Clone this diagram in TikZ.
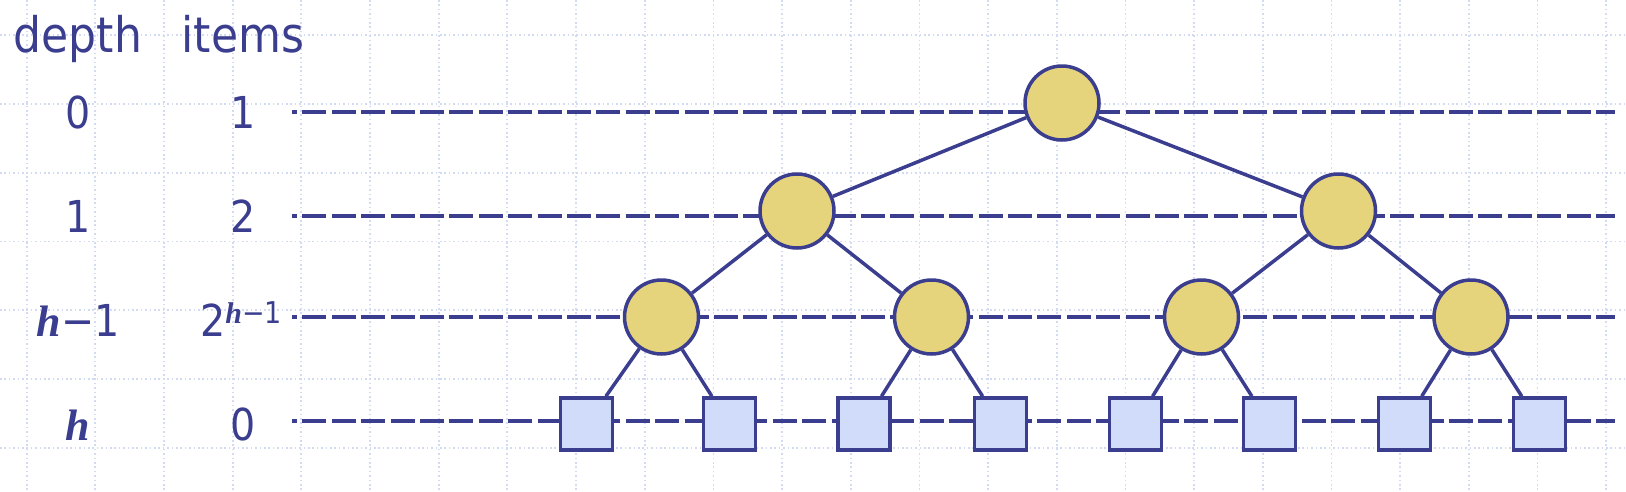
\documentclass[tikz,border=0pt]{standalone}
\usepackage{fontspec}
\setmainfont{DejaVu Sans Condensed}
\newfontfamily\hfont{Liberation Serif}
\usetikzlibrary{backgrounds}
\definecolor{navy}{HTML}{3B3E8E}
\definecolor{gold}{HTML}{E6D47C}
\definecolor{leafc}{HTML}{D0DCFA}
\definecolor{gridc}{HTML}{D3DBF2}
\newcommand{\hh}{{\hfont\bfseries\itshape h}}
\begin{document}
\begin{tikzpicture}[x=1pt,y=-1pt,
  innernode/.style={circle,draw=navy,fill=gold,line width=3.5pt,minimum size=74pt,inner sep=0pt},
  leafbox/.style={rectangle,draw=navy,fill=leafc,line width=3.5pt,minimum size=52pt,inner sep=0pt},
  edgeline/.style={draw=navy,line width=3.5pt},
  levelline/.style={draw=navy,line width=4pt,dash pattern=on 24pt off 5.4pt,dash phase=19pt},
  gridline/.style={draw=gridc,line width=1.8pt,dash pattern=on 1.6pt off 2.8pt},
  lbl/.style={text=navy,inner sep=0pt,anchor=base},
  hdr/.style={lbl,font=\fontsize{49}{58}\selectfont},
  num/.style={lbl,font=\fontsize{44}{52}\selectfont},
]
\useasboundingbox (0,0) rectangle (1626,491);
% tree nodes
\node[innernode] (r) at (1062,103) {};
\node[innernode] (a) at (797,211) {};
\node[innernode] (b) at (1338.5,211) {};
\node[innernode] (a1) at (661.5,317) {};
\node[innernode] (a2) at (931.5,317) {};
\node[innernode] (b1) at (1201.5,317) {};
\node[innernode] (b2) at (1471,317) {};
\node[leafbox] (s1) at (586.5,424) {};
\node[leafbox] (s2) at (729.5,424) {};
\node[leafbox] (s3) at (864,424) {};
\node[leafbox] (s4) at (1000.5,424) {};
\node[leafbox] (s5) at (1135.5,424) {};
\node[leafbox] (s6) at (1269.5,424) {};
\node[leafbox] (s7) at (1404.5,424) {};
\node[leafbox] (s8) at (1539.5,424) {};
% level line ends
\coordinate (l0w) at (292,112); \coordinate (l0e) at (1615,112);
\coordinate (l1w) at (292,216); \coordinate (l1e) at (1615,216);
\coordinate (l2w) at (292,317); \coordinate (l2e) at (1615,317);
\coordinate (l3w) at (292,421); \coordinate (l3e) at (1615,421);
\begin{scope}[on background layer]
  \foreach \i in {0,...,23} \draw[gridline] ({26.7+68.67*\i},0) -- ({26.7+68.67*\i},491);
  \foreach \j in {0,...,6} \draw[gridline] (0,{35+68.8*\j}) -- (1626,{35+68.8*\j});
  \draw[levelline] (l0w) -- (l0e);
  \draw[levelline] (l1w) -- (l1e);
  \draw[levelline] (l2w) -- (l2e);
  \draw[levelline] (l3w) -- (l3e);
\end{scope}
% edges
\draw[edgeline] (r) -- (a);
\draw[edgeline] (r) -- (b);
\draw[edgeline] (a) -- (a1);
\draw[edgeline] (a) -- (a2);
\draw[edgeline] (b) -- (b1);
\draw[edgeline] (b) -- (b2);
\draw[edgeline] (a1) -- (s1);
\draw[edgeline] (a1) -- (s2);
\draw[edgeline] (a2) -- (s3);
\draw[edgeline] (a2) -- (s4);
\draw[edgeline] (b1) -- (s5);
\draw[edgeline] (b1) -- (s6);
\draw[edgeline] (b2) -- (s7);
\draw[edgeline] (b2) -- (s8);
% labels
\node[hdr] (hd) at (78,52) {depth};
\node[hdr] (hi) at (243,52) {items};
\node[num] (d0) at (78,128) {0};
\node[num] (i0) at (243,128) {1};
\node[num] (d1) at (78,232) {1};
\node[num] (i1) at (243,232) {2};
\node[num] (d2) at (78,336) {\hh−1};
\node[num] (i2) at (241,336) {2\raisebox{13pt}{\fontsize{30}{34}\selectfont\hh−1}};
\node[num] (d3) at (78,440) {\hh};
\node[num] (i3) at (243,440) {0};
\end{tikzpicture}
\end{document}
